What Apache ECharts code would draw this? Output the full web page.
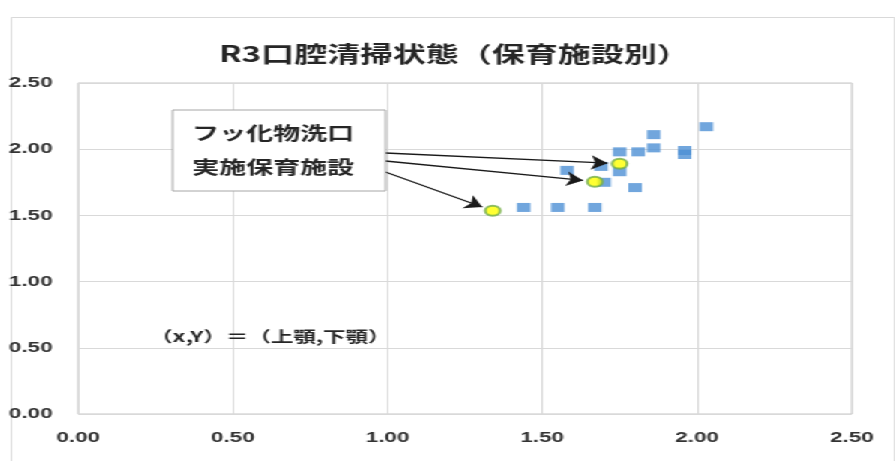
<!DOCTYPE html>
<html>
<head>
<meta charset="utf-8">
<script src="https://cdn.jsdelivr.net/npm/echarts@6/dist/echarts.min.js"></script>
<style>
  html, body { margin: 0; padding: 0; background: #fff; overflow: hidden; }
  /* chart is laid out narrow and widened to the page width */
  #wrap { width: 895px; height: 461px; overflow: hidden; }
  #chart { width: 597px; height: 461px; transform: scaleX(1.5); transform-origin: 0 0; }
</style>
</head>
<body>
<div id="wrap"><div id="chart"></div></div>
<script>
// 上顎 (x) / 下顎 (y) scores per nursery facility
const otherFacilities = [
  [2.03, 2.17], [1.86, 2.11], [1.86, 2.01], [1.96, 1.99], [1.96, 1.96],
  [1.75, 1.98], [1.81, 1.98], [1.69, 1.87], [1.75, 1.83], [1.58, 1.84],
  [1.70, 1.75], [1.80, 1.71], [1.44, 1.56], [1.55, 1.56], [1.67, 1.56]
];
// facilities running fluoride mouth rinse
const fluorideFacilities = [[1.75, 1.89], [1.67, 1.755], [1.34, 1.535]];
const axisTicks = [0, 0.5, 1.0, 1.5, 2.0, 2.5];

const titleText = 'R3口腔清掃状態（保育施設別）';
const boxLines = ['フッ化物洗口', '実施保育施設'];
const noteText = '（x,Y）＝（上顎,下顎）';

const chart = echarts.init(document.getElementById('chart'), null, { renderer: 'canvas' });

const tickLabel = {
  color: '#333333', fontSize: 15, fontWeight: 'bold',
  fontFamily: 'Liberation Sans, Arial, sans-serif',
  formatter: v => v.toFixed(2)
};
const axisCommon = {
  type: 'value',
  min: axisTicks[0], max: axisTicks[axisTicks.length - 1],
  interval: axisTicks[1] - axisTicks[0],
  axisLine: { show: false }, axisTick: { show: false },
  splitLine: { show: true, lineStyle: { color: '#d9d9d9', width: 1 } }
};

const box = { x: 115, y: 110, w: 142, h: 81 };

chart.setOption({
  animation: false,
  backgroundColor: '#ffffff',
  title: {
    text: titleText, left: 298, top: 38, textAlign: 'center',
    textStyle: { fontSize: 22, fontWeight: 'bold', color: '#262626',
      fontFamily: 'Noto Sans CJK JP, sans-serif' }
  },
  grid: { left: 52, top: 83, width: 516, height: 331, show: true,
    borderColor: '#c6c6c6', borderWidth: 1, outerBoundsMode: 'none', containLabel: false },
  xAxis: Object.assign({}, axisCommon, { axisLabel: Object.assign({}, tickLabel, { margin: 16 }) }),
  yAxis: Object.assign({}, axisCommon, { axisLabel: Object.assign({}, tickLabel, { margin: 17 }) }),
  graphic: [
    { type: 'rect', left: 5, top: 15, shape: { width: 589, height: 460 },
      style: { fill: 'none', stroke: '#d9d9d9', lineWidth: 1 }, silent: true },
    { type: 'rect', shape: { x: box.x, y: box.y, width: box.w, height: box.h },
      style: { fill: '#ffffff', stroke: '#a6a6a6', lineWidth: 1 }, z: 10 },
    { type: 'text', x: 128, y: 133, z: 11,
      style: { text: boxLines[0], fontSize: 18, fontWeight: 'bold', fill: '#262626', verticalAlign: 'middle',
        fontFamily: 'Noto Sans CJK JP, sans-serif' } },
    { type: 'text', x: 128, y: 167, z: 11,
      style: { text: boxLines[1], fontSize: 18, fontWeight: 'bold', fill: '#262626', verticalAlign: 'middle',
        fontFamily: 'Noto Sans CJK JP, sans-serif' } },
    { type: 'text', x: 100, y: 336, z: 11,
      style: { text: noteText, fontSize: 15, fontWeight: 'bold', fill: '#262626',
        verticalAlign: 'middle', fontFamily: 'Noto Sans CJK JP, sans-serif' } }
  ],
  series: [
    { name: 'その他', type: 'scatter', data: otherFacilities, symbol: 'rect',
      symbolSize: [9, 9], itemStyle: { color: '#4e90d4' }, z: 3 },
    { name: 'フッ化物洗口実施', type: 'scatter', data: fluorideFacilities, symbol: 'circle',
      symbolSize: 10, itemStyle: { color: '#ffff00', borderColor: '#72ac4a', borderWidth: 2 }, z: 5 }
  ]
});

// arrows from the text box edge to each fluoride-rinse facility
const starts = [153, 161, 172];
const arrowData = fluorideFacilities.map((pt, i) => {
  const c = chart.convertToPixel({ gridIndex: 0 }, pt);
  const s = [box.x + box.w, starts[i]];
  const dx = c[0] - s[0], dy = c[1] - s[1];
  const len = Math.hypot(dx, dy);
  const gap = 8;
  const tip = [c[0] - dx / len * gap, c[1] - dy / len * gap];
  return {
    coords: [
      chart.convertFromPixel({ gridIndex: 0 }, s),
      chart.convertFromPixel({ gridIndex: 0 }, tip)
    ]
  };
});

chart.setOption({
  series: [{}, {}, {
    name: 'arrows', type: 'lines', coordinateSystem: 'cartesian2d',
    silent: true, z: 8,
    symbol: ['none', 'arrow'], symbolSize: 11,
    lineStyle: { color: '#1a1a1a', width: 1.3, opacity: 1, curveness: 0 },
    itemStyle: { color: '#1a1a1a' },
    data: arrowData
  }]
});
</script>
</body>
</html>
